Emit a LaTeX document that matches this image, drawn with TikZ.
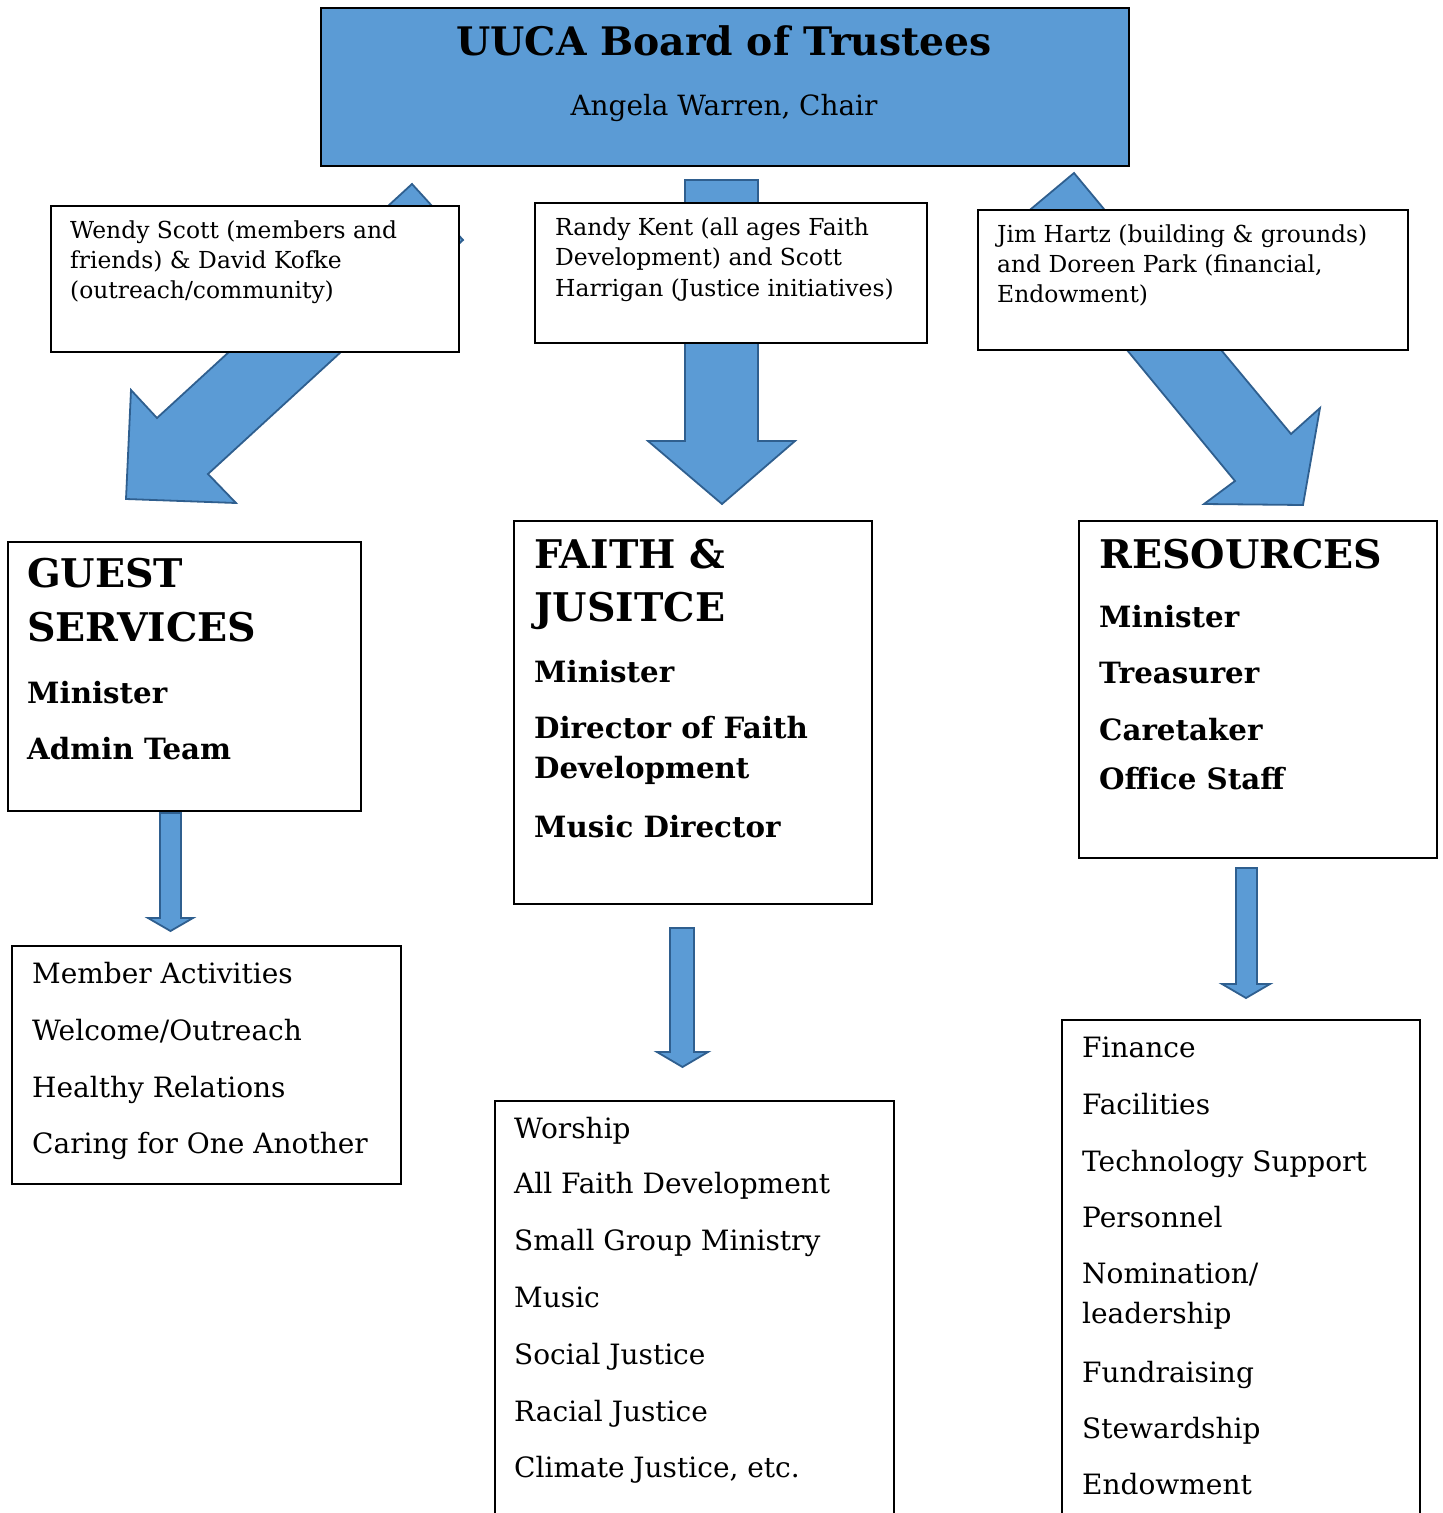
\documentclass[tikz,border=0pt]{standalone}
\usepackage{fontspec}
\setmainfont{DejaVu Serif}
\definecolor{uublue}{HTML}{5B9BD5}
\definecolor{uuedge}{HTML}{2F5F8F}
\begin{document}
\begin{tikzpicture}[x=1pt,y=-1pt,
  blk/.style={draw=black, line width=2pt, fill=white, inner sep=0pt, anchor=north west},
  topblk/.style={draw=black, line width=2pt, fill=uublue, inner sep=0pt, anchor=north west},
  barrow/.style={fill=uublue, draw=uuedge, line width=1.8pt, line join=miter},
  ttl/.style={anchor=base, inner sep=0pt, font=\bfseries\fontsize{39.3}{44}\selectfont},
  sub/.style={anchor=base, inner sep=0pt, font=\fontsize{27.9}{34}\selectfont},
  sml/.style={anchor=base west, inner sep=0pt, font=\fontsize{23.4}{30}\selectfont},
  hdr/.style={anchor=base west, inner sep=0pt, font=\bfseries\fontsize{39.5}{44}\selectfont},
  bitm/.style={anchor=base west, inner sep=0pt, font=\bfseries\fontsize{29.3}{34}\selectfont},
  itm/.style={anchor=base west, inner sep=0pt, font=\fontsize{28}{34}\selectfont}]
\useasboundingbox (0,0) rectangle (1443,1513);
\clip (0,0) rectangle (1443,1513);

% big block arrows (drawn first, partly hidden by boxes)
\draw[barrow] (412,184) -- (157,418) -- (131,390) -- (126,499) -- (236,503) -- (208,474) -- (463,240) -- cycle;
\draw[barrow] (685,180) -- (758,180) -- (758,441) -- (795,441) -- (722,504) -- (648,441) -- (685,441) -- cycle;
\draw[barrow] (1074,173) -- (1019,219) -- (1235,481) -- (1204,504) -- (1303,505) -- (1320,408) -- (1291,434) -- cycle;

% small arrows
\draw[barrow] (160,813) -- (181,813) -- (181,918) -- (193,918) -- (170.5,931) -- (148,918) -- (160,918) -- cycle;
\draw[barrow] (670,928) -- (694,928) -- (694,1052) -- (708,1052) -- (682.5,1067) -- (657,1052) -- (670,1052) -- cycle;
\draw[barrow] (1236,868) -- (1257,868) -- (1257,984) -- (1270,984) -- (1246,998) -- (1222,984) -- (1236,984) -- cycle;

% top box
\node[topblk, minimum width=808, minimum height=158] (board) at (320,7) {};
\node[ttl] (boardt) at (724,55) {UUCA Board of Trustees};
\node[sub] (boards) at (724,115) {Angela Warren, Chair};

% liaison boxes
\node[blk, minimum width=408, minimum height=146] (wendy) at (50,205) {};
\node[sml] (w1) at (70,238) {Wendy Scott (members and};
\node[sml] (w2) at (70,268) {friends) \& David Kofke};
\node[sml] (w3) at (70,298) {(outreach/community)};

\node[blk, minimum width=392, minimum height=140] (randy) at (534,202) {};
\node[sml] (r1) at (555,235) {Randy Kent (all ages Faith};
\node[sml] (r2) at (555,265) {Development) and Scott};
\node[sml] (r3) at (555,296) {Harrigan (Justice initiatives)};

\node[blk, minimum width=430, minimum height=140] (jim) at (977,209) {};
\node[sml] (j1) at (997,242) {Jim Hartz (building \& grounds)};
\node[sml] (j2) at (997,272) {and Doreen Park (financial,};
\node[sml] (j3) at (997,302) {Endowment)};

% department boxes
\node[blk, minimum width=353, minimum height=269] (guest) at (7,541) {};
\node[hdr] (g1) at (27,587) {GUEST};
\node[hdr] (g2) at (27,641) {SERVICES};
\node[bitm] (g3) at (27,703) {Minister};
\node[bitm] (g4) at (27,759) {Admin Team};

\node[blk, minimum width=358, minimum height=383] (faith) at (513,520) {};
\node[hdr] (fa1) at (534,568) {FAITH \&};
\node[hdr] (fa2) at (534,621) {JUSITCE};
\node[bitm] (fa3) at (534,682) {Minister};
\node[bitm] (fa4) at (534,738) {Director of Faith};
\node[bitm] (fa5) at (534,778) {Development};
\node[bitm] (fa6) at (534,837) {Music Director};

\node[blk, minimum width=358, minimum height=337] (res) at (1078,520) {};
\node[hdr] (re1) at (1099,568) {RESOURCES};
\node[bitm] (re2) at (1099,627) {Minister};
\node[bitm] (re3) at (1099,683) {Treasurer};
\node[bitm] (re4) at (1099,740) {Caretaker};
\node[bitm] (re5) at (1099,789) {Office Staff};

% lists
\node[blk, minimum width=389, minimum height=238] (member) at (11,945) {};
\node[itm] (m1) at (32,983) {Member Activities};
\node[itm] (m2) at (32,1040) {Welcome/Outreach};
\node[itm] (m3) at (32,1097) {Healthy Relations};
\node[itm] (m4) at (32,1153) {Caring for One Another};

\node[blk, minimum width=399, minimum height=440] (worship) at (494,1100) {};
\node[itm] (ws1) at (514,1138) {Worship};
\node[itm] (ws2) at (514,1193) {All Faith Development};
\node[itm] (ws3) at (514,1250) {Small Group Ministry};
\node[itm] (ws4) at (514,1307) {Music};
\node[itm] (ws5) at (514,1364) {Social Justice};
\node[itm] (ws6) at (514,1421) {Racial Justice};
\node[itm] (ws7) at (514,1477) {Climate Justice, etc.};

\node[blk, minimum width=358, minimum height=520] (fin) at (1061,1019) {};
\node[itm] (fi1) at (1082,1057) {Finance};
\node[itm] (fi2) at (1082,1114) {Facilities};
\node[itm] (fi3) at (1082,1171) {Technology Support};
\node[itm] (fi4) at (1082,1227) {Personnel};
\node[itm] (fi5) at (1082,1283) {Nomination/};
\node[itm] (fi6) at (1082,1323) {leadership};
\node[itm] (fi7) at (1082,1382) {Fundraising};
\node[itm] (fi8) at (1082,1438) {Stewardship};
\node[itm] (fi9) at (1082,1494) {Endowment};
\end{tikzpicture}
\end{document}
